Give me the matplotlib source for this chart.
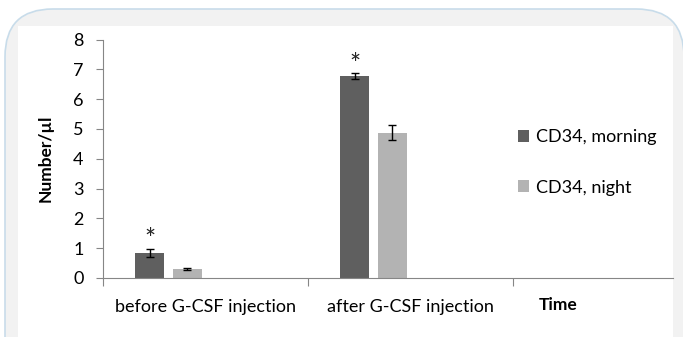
import matplotlib.pyplot as plt
from matplotlib.patches import FancyBboxPatch, Rectangle

categories = ["before G-CSF injection", "after G-CSF injection"]
series = ["CD34, morning", "CD34, night"]
morning = [0.84, 6.78]
morning_err = [0.13, 0.10]
night = [0.30, 4.87]
night_err = [0.02, 0.25]
stars = [1.54, 7.41]

plt.rcParams["font.family"] = ["Lato", "DejaVu Sans"]

fig = plt.figure(figsize=(6.83, 3.37), dpi=100)
fig.patch.set_facecolor("white")

# rounded grey frame and white panel behind the chart
W, H = 683.0, 337.0
frame = FancyBboxPatch((5 / W, -0.2), (684 - 5) / W, 1.2 - 9 / H,
                       boxstyle="round,pad=0,rounding_size=0.07",
                       transform=fig.transFigure, facecolor="#f2f2f2",
                       edgecolor="#c8dcea", linewidth=1.2, zorder=0,
                       mutation_aspect=W / H)
fig.patches.append(frame)
fig.patches.append(Rectangle((18 / W, 0), (673 - 18) / W, (337 - 26) / H,
                             transform=fig.transFigure, facecolor="white",
                             edgecolor="none", zorder=0.5))

ax = fig.add_axes([103 / W, (337 - 278) / H, (673 - 103) / W, (278 - 39.5) / H])
ax.set_facecolor("none")
ax.set_zorder(2)

width = 0.1415
offsets = [0.227, 0.41]
dark = "#5f5f5f"
light = "#b3b3b3"
for i in range(len(categories)):
    ax.bar(i + offsets[0], morning[i], width, color=dark,
           label=series[0] if i == 0 else None, zorder=2)
    ax.bar(i + offsets[1], night[i], width, color=light,
           label=series[1] if i == 0 else None, zorder=2)
    ax.errorbar(i + offsets[0], morning[i], yerr=morning_err[i], fmt="none",
                ecolor="black", elinewidth=1, capsize=3, capthick=1, zorder=3)
    ax.errorbar(i + offsets[1], night[i], yerr=night_err[i], fmt="none",
                ecolor="black", elinewidth=1, capsize=3, capthick=1, zorder=3)
    # asterisk glyph sits high in its box, nudge it down a little
    ax.annotate("*", (i + offsets[0], stars[i]), xytext=(0, -6),
                textcoords="offset points", ha="center", va="center",
                fontsize=19, color="#222222")

ax.set_xlim(0, 570 / 205)
ax.set_ylim(0, 8)
ax.set_yticks(range(0, 9))
ax.set_xticks([0, 1, 2])
ax.set_xticklabels([])
ax.set_xticks([0.5, 1.5], minor=True)
ax.set_xticklabels(categories, minor=True, fontsize=13)
ax.tick_params(axis="x", which="minor", length=0, pad=15)
ax.tick_params(axis="x", which="major", length=6, color="#868686", direction="out")
ax.tick_params(axis="y", length=5, color="#868686", labelsize=13, pad=9)

for s in ["top", "right"]:
    ax.spines[s].set_visible(False)
for s in ["left", "bottom"]:
    ax.spines[s].set_color("#868686")

ax.set_ylabel("Number/µl", fontsize=12.5, fontweight="bold", labelpad=14)
ax.text(2.22, -0.65, "Time", ha="center", va="top", fontsize=12.5,
        fontweight="bold", transform=ax.transData)

ax.legend(loc="center left", bbox_to_anchor=(0.699, 0.484), frameon=False,
          fontsize=13, handlelength=0.65, handleheight=0.65,
          handletextpad=0.35, labelspacing=1.9)

fig.savefig("out.png", dpi=100)
